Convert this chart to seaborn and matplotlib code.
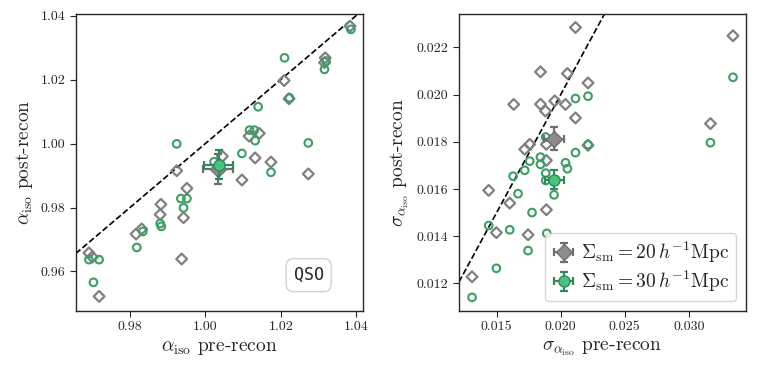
import numpy as np
import pandas as pd
import seaborn as sns
import matplotlib.pyplot as plt

sns.set_style('ticks')
plt.rcParams['font.family'] = 'serif'
plt.rcParams['font.serif'] = ['cmr10', 'DejaVu Serif']
plt.rcParams['mathtext.fontset'] = 'cm'
plt.rcParams['axes.formatter.use_mathtext'] = True

gray = '#808080'
green = '#3c9e66'
green_fill = '#4cc07e'

# alpha_iso, smoothing 20 Mpc/h (diamonds)
a_pre_20 = [0.9691, 0.9700, 0.9718, 0.9816, 0.9831, 0.9882, 0.9880, 0.9924, 0.9951, 0.9942,
            0.9937, 1.0045, 1.0097, 1.0116, 1.0143, 1.0132, 1.0174, 1.0273, 1.0209, 1.0222,
            1.0318, 1.0316, 1.0384]
a_post_20 = [0.9658, 0.9645, 0.9522, 0.9717, 0.9733, 0.9810, 0.9778, 0.9915, 0.9860, 0.9768,
             0.9639, 0.9960, 0.9886, 1.0023, 1.0032, 0.9955, 0.9942, 0.9905, 1.0197, 1.0140,
             1.0268, 1.0253, 1.0367]
# alpha_iso, smoothing 30 Mpc/h (circles)
a_pre_30 = [0.9691, 0.9718, 0.9703, 0.9818, 0.9834, 0.9880, 0.9883, 0.9924, 0.9935, 0.9951,
            0.9942, 1.0023, 1.0097, 1.0117, 1.0130, 1.0132, 1.0140, 1.0174, 1.0273, 1.0210,
            1.0223, 1.0320, 1.0316, 1.0386]
a_post_30 = [0.9637, 0.9637, 0.9566, 0.9675, 0.9725, 0.9750, 0.9741, 0.9999, 0.9828, 0.9828,
             0.9799, 0.9943, 0.9969, 1.0042, 1.0042, 1.0009, 1.0115, 0.9910, 1.0002, 1.0268,
             1.0143, 1.0258, 1.0232, 1.0357]
a_mean_20 = (1.0033, 0.9920, 0.0040, 0.0048)  # x, y, xerr, yerr
a_mean_30 = (1.0035, 0.9934, 0.0038, 0.0046)

# sigma_alpha_iso
s_pre_20 = [0.01308, 0.01438, 0.01498, 0.01602, 0.01633, 0.01745, 0.01719, 0.01758, 0.01842,
            0.01842, 0.01881, 0.01888, 0.01888, 0.01888, 0.01953, 0.02037, 0.02052, 0.02115,
            0.02115, 0.02213, 0.02213, 0.03168, 0.03344]
s_post_20 = [0.01228, 0.01594, 0.01415, 0.01540, 0.01958, 0.01406, 0.01768, 0.01789, 0.02096,
             0.01959, 0.01930, 0.01789, 0.01721, 0.01512, 0.01973, 0.01958, 0.02089, 0.02284,
             0.01901, 0.02049, 0.01785, 0.01877, 0.02249]
s_pre_30 = [0.01308, 0.01438, 0.01498, 0.01602, 0.01628, 0.01667, 0.01719, 0.01758, 0.01745,
            0.01776, 0.01842, 0.01842, 0.01883, 0.01883, 0.01883, 0.01891, 0.01948, 0.02037,
            0.02052, 0.02115, 0.02115, 0.02213, 0.02213, 0.03168, 0.03344]
s_post_30 = [0.01141, 0.01445, 0.01264, 0.01427, 0.01654, 0.01580, 0.01679, 0.01718, 0.01339,
             0.01500, 0.01735, 0.01704, 0.01820, 0.01667, 0.01636, 0.01412, 0.01575, 0.01711,
             0.01686, 0.01983, 0.01754, 0.01993, 0.01788, 0.01796, 0.02073]
s_mean_20 = (0.01948, 0.01813, 0.00078, 0.00050)
s_mean_30 = (0.01948, 0.01640, 0.00074, 0.00042)

labels = [r'$\Sigma_{\rm sm} = 20\,h^{-1}{\rm Mpc}$', r'$\Sigma_{\rm sm} = 30\,h^{-1}{\rm Mpc}$']

fig = plt.figure(figsize=(7.58, 3.74), dpi=100)
ax1 = fig.add_axes([0.0999, 0.169, 0.3794, 0.7935])
ax2 = fig.add_axes([0.6055, 0.169, 0.3786, 0.7935])


def panel(ax, x20, y20, x30, y30, m20, m30, lims):
    xlim, ylim = lims
    # one-to-one line
    ax.axline((xlim[0], xlim[0]), slope=1, ls='--', color='k', lw=1.2, zorder=1)
    sns.scatterplot(x=x20, y=y20, ax=ax, marker='D', s=30, facecolors='none',
                    edgecolor=gray, linewidth=1.6, zorder=2)
    sns.scatterplot(x=x30, y=y30, ax=ax, marker='o', s=30, facecolors='none',
                    edgecolor=green, linewidth=1.5, zorder=2)
    h1 = ax.errorbar(m20[0], m20[1], xerr=m20[2], yerr=m20[3], fmt='D', ms=8,
                     color='#6e6e6e', mfc='#8c8c8c', mec='#6e6e6e', elinewidth=1.6,
                     capsize=3, capthick=1.6, zorder=4)
    h2 = ax.errorbar(m30[0], m30[1], xerr=m30[2], yerr=m30[3], fmt='o', ms=8,
                     color='#2e8b57', mfc=green_fill, mec='#2e8b57', elinewidth=1.6,
                     capsize=3, capthick=1.6, zorder=5)
    ax.set_xlim(*xlim)
    ax.set_ylim(*ylim)
    for s in ax.spines.values():
        s.set_visible(True)
        s.set_linewidth(1.0)
    ax.tick_params(labelsize=10, length=4)
    return h1, h2


panel(ax1, a_pre_20, a_post_20, a_pre_30, a_post_30, a_mean_20, a_mean_30,
      ((0.9656, 1.0419), (0.9477, 1.0405)))
ax1.set_xticks([0.98, 1.00, 1.02, 1.04])
ax1.set_yticks([0.96, 0.98, 1.00, 1.02, 1.04])
ax1.xaxis.set_major_formatter(plt.FormatStrFormatter('%.2f'))
ax1.yaxis.set_major_formatter(plt.FormatStrFormatter('%.2f'))
ax1.set_xlabel(r'$\alpha_{\rm iso}$ pre-recon', fontsize=14)
ax1.set_ylabel(r'$\alpha_{\rm iso}$ post-recon', fontsize=14)
ax1.text(0.81, 0.12, 'QSO', transform=ax1.transAxes, ha='center', va='center',
         fontsize=12, family='DejaVu Sans Mono',
         bbox=dict(boxstyle='round,pad=0.45', fc='white', ec='#d3d3d3', lw=1))

h1, h2 = panel(ax2, s_pre_20, s_post_20, s_pre_30, s_post_30, s_mean_20, s_mean_30,
               ((0.01206, 0.03445), (0.01084, 0.02341)))
ax2.set_xticks([0.015, 0.020, 0.025, 0.030])
ax2.set_yticks([0.012, 0.014, 0.016, 0.018, 0.020, 0.022])
ax2.xaxis.set_major_formatter(plt.FormatStrFormatter('%.3f'))
ax2.yaxis.set_major_formatter(plt.FormatStrFormatter('%.3f'))
ax2.set_xlabel(r'$\sigma_{\alpha_{\rm iso}}$ pre-recon', fontsize=14)
ax2.set_ylabel(r'$\sigma_{\alpha_{\rm iso}}$ post-recon', fontsize=14)
ax2.legend([h1, h2], labels, loc='lower right', fontsize=14, handletextpad=0.3,
           handlelength=1.2, borderpad=0.35, labelspacing=0.2)

fig.savefig('out.png', dpi=100)
